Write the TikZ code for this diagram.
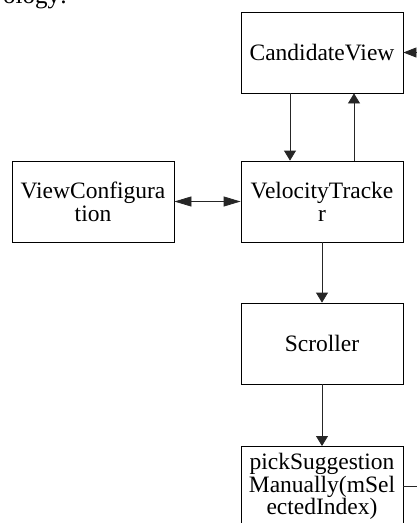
\documentclass[tikz,border=0pt]{standalone}
\usepackage{fontspec}
\setmainfont{Liberation Serif}
\usetikzlibrary{arrows.meta}
\begin{document}
\begin{tikzpicture}[x=1pt,y=-1pt,
  box/.style={draw=black,line width=0.8pt,minimum width=162pt,minimum height=81pt,inner sep=0pt,
    align=center,font=\fontsize{23.5}{23}\selectfont},
  conn/.style={draw=black!85,line width=0.8pt,-{Triangle[length=10pt,width=12pt]}},
  hconn/.style={draw=black!85,line width=0.8pt,-{Triangle[length=13pt,width=10pt]}},
  dconn/.style={draw=black!85,line width=0.8pt,{Triangle[length=17pt,width=10pt]}-{Triangle[length=17pt,width=10pt]}}]
\useasboundingbox (0,0) rectangle (417,523);
\node[anchor=base west,inner sep=0pt,font=\fontsize{25}{25}\selectfont] (frag) at (3,3) {ology:};
\node[box] (cv) at (322,52.5) {CandidateView};
\node[box] (vc) at (93,201.5) {ViewConfigura\\tion};
\node[box] (vt) at (322,201.5) {VelocityTracke\\r};
\node[box] (sc) at (322,343.5) {Scroller};
\node[draw=black,line width=0.8pt,minimum width=162pt,minimum height=100pt,inner sep=0pt,anchor=north] (pk) at (322,446) {};
\node[align=center,inner sep=0pt,anchor=north,font=\fontsize{23.5}{22.5}\selectfont] (pkt) at (322,453) {pickSuggestion\\Manually(mSel\\ectedIndex)};
\coordinate (pr) at (pk.east |- 0,486);
\coordinate (c1) at (424,486);
\coordinate (c2) at (424,52.5);
\draw[conn] ([xshift=-32pt]cv.south) -- ([xshift=-32pt]vt.north);
\draw[conn] ([xshift=32pt]vt.north) -- ([xshift=32pt]cv.south);
\draw[dconn] (vc.east) -- (vt.west);
\draw[conn] (vt.south) -- (sc.north);
\draw[conn] (sc.south) -- (pk.north);
\draw[hconn] (pr) -- (c1) -- (c2) -- (cv.east);
\end{tikzpicture}
\end{document}
